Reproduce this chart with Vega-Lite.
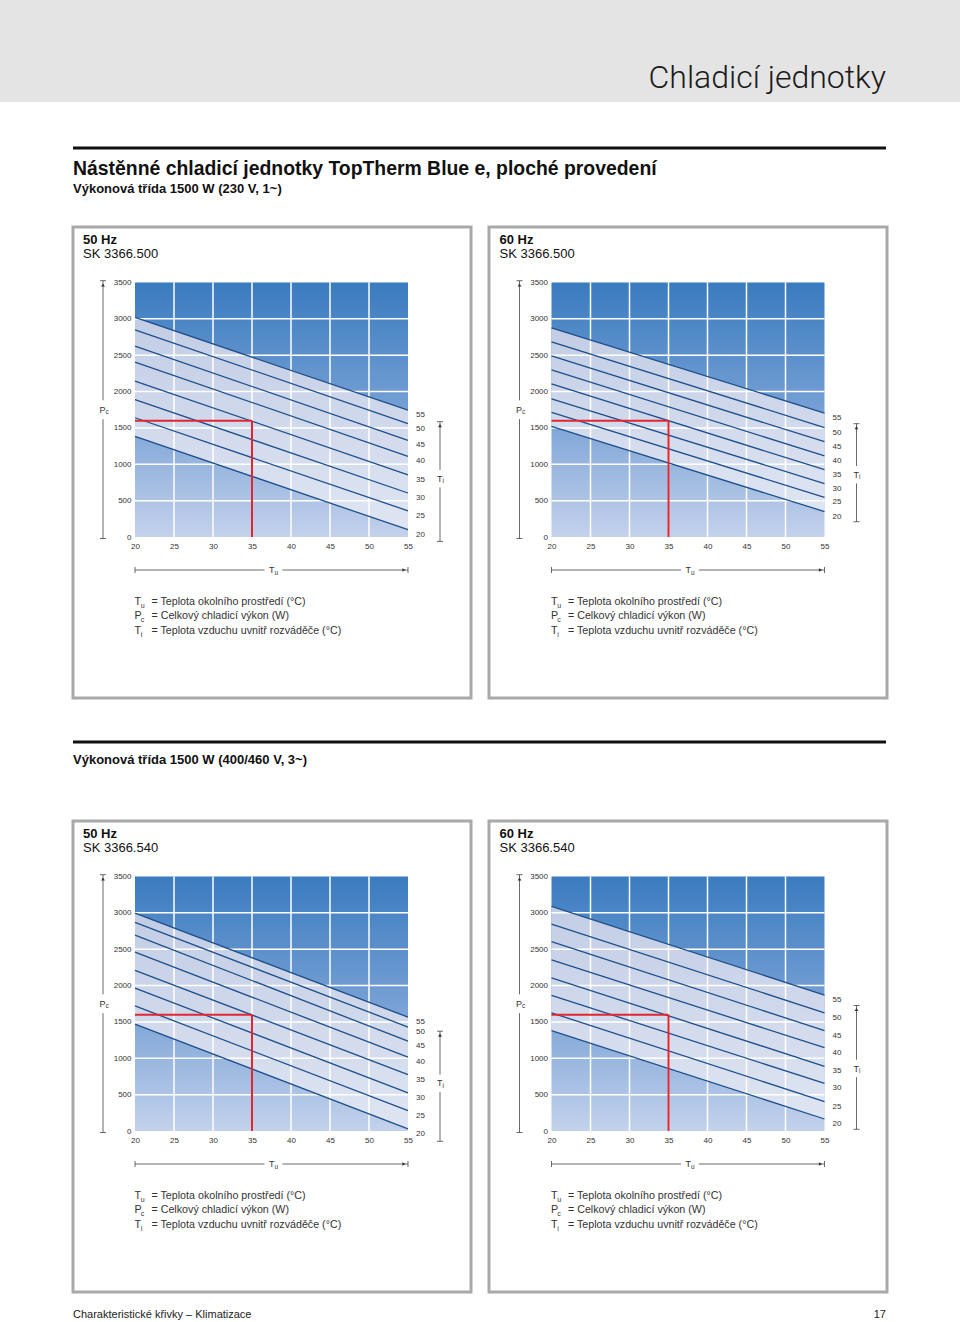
{
"$schema": "https://vega.github.io/schema/vega-lite/v6.json",
"padding": 0,
"background": "white",
"columns": 2,
"spacing": 0,
"bounds": "flush",
"config": {"font": "Liberation Sans", "view": {"stroke": null}},
"datasets": {
"c50_500": [
{"tu":20,"ti":55,"pc":3020},{"tu":55,"ti":55,"pc":1745},
{"tu":20,"ti":50,"pc":2850},{"tu":55,"ti":50,"pc":1560},
{"tu":20,"ti":45,"pc":2625},{"tu":55,"ti":45,"pc":1330},
{"tu":20,"ti":40,"pc":2405},{"tu":55,"ti":40,"pc":1110},
{"tu":20,"ti":35,"pc":2145},{"tu":55,"ti":35,"pc":855},
{"tu":20,"ti":30,"pc":1890},{"tu":55,"ti":30,"pc":605},
{"tu":20,"ti":25,"pc":1640},{"tu":55,"ti":25,"pc":360},
{"tu":20,"ti":20,"pc":1385},{"tu":55,"ti":20,"pc":100}],
"c60_500": [
{"tu":20,"ti":55,"pc":2875},{"tu":55,"ti":55,"pc":1705},
{"tu":20,"ti":50,"pc":2685},{"tu":55,"ti":50,"pc":1505},
{"tu":20,"ti":45,"pc":2490},{"tu":55,"ti":45,"pc":1310},
{"tu":20,"ti":40,"pc":2300},{"tu":55,"ti":40,"pc":1115},
{"tu":20,"ti":35,"pc":2105},{"tu":55,"ti":35,"pc":925},
{"tu":20,"ti":30,"pc":1900},{"tu":55,"ti":30,"pc":735},
{"tu":20,"ti":25,"pc":1715},{"tu":55,"ti":25,"pc":545},
{"tu":20,"ti":20,"pc":1520},{"tu":55,"ti":20,"pc":350}],
"c50_540": [
{"tu":20,"ti":55,"pc":2995},{"tu":55,"ti":55,"pc":1565},
{"tu":20,"ti":50,"pc":2870},{"tu":55,"ti":50,"pc":1430},
{"tu":20,"ti":45,"pc":2695},{"tu":55,"ti":45,"pc":1235},
{"tu":20,"ti":40,"pc":2460},{"tu":55,"ti":40,"pc":1015},
{"tu":20,"ti":35,"pc":2210},{"tu":55,"ti":35,"pc":775},
{"tu":20,"ti":30,"pc":1965},{"tu":55,"ti":30,"pc":525},
{"tu":20,"ti":25,"pc":1720},{"tu":55,"ti":25,"pc":280},
{"tu":20,"ti":20,"pc":1470},{"tu":55,"ti":20,"pc":30}],
"c60_540": [
{"tu":20,"ti":55,"pc":3090},{"tu":55,"ti":55,"pc":1870},
{"tu":20,"ti":50,"pc":2845},{"tu":55,"ti":50,"pc":1625},
{"tu":20,"ti":45,"pc":2605},{"tu":55,"ti":45,"pc":1380},
{"tu":20,"ti":40,"pc":2355},{"tu":55,"ti":40,"pc":1145},
{"tu":20,"ti":35,"pc":2105},{"tu":55,"ti":35,"pc":890},
{"tu":20,"ti":30,"pc":1865},{"tu":55,"ti":30,"pc":655},
{"tu":20,"ti":25,"pc":1625},{"tu":55,"ti":25,"pc":405},
{"tu":20,"ti":20,"pc":1380},{"tu":55,"ti":20,"pc":165}],
"gx": [{"v":25},{"v":30},{"v":35},{"v":40},{"v":45},{"v":50}],
"gy": [{"v":500},{"v":1000},{"v":1500},{"v":2000},{"v":2500},{"v":3000}],
"ex": [{"tu":35,"pc":1600}]
},
"concat": [
{"width":480,"height":102,"view":{"fill":"#e4e4e4"},"data":{"values":[{}]},"mark":{"type":"text","text":""},"encoding":{"x":{"value":10},"y":{"value":50}}},
{"width":480,"height":102,"view":{"fill":"#e4e4e4"},"data":{"values":[{}]},
 "mark":{"type":"text","text":"Chladicí jednotky","align":"right","baseline":"middle","fontSize":32,"font":"Roboto","fontWeight":300,"color":"#1a1a1a"},
 "encoding":{"x":{"value":406},"y":{"value":78}}},
{"width":480,"height":125,"data":{"values":[{}]},"layer":[
 {"mark":{"type":"rule","color":"#111","strokeWidth":3},"encoding":{"x":{"value":73},"x2":{"value":886},"y":{"value":46}}},
 {"mark":{"type":"text","text":"Nástěnné chladicí jednotky TopTherm Blue e, ploché provedení","align":"left","baseline":"middle","fontSize":19.4,"fontWeight":"bold","color":"#111"},"encoding":{"x":{"value":73},"y":{"value":67}}},
 {"mark":{"type":"text","text":"Výkonová třída 1500 W (230 V, 1~)","align":"left","baseline":"middle","fontSize":13,"fontWeight":"bold","color":"#111"},"encoding":{"x":{"value":73},"y":{"value":87}}}
]},
{"width":480,"height":125,"data":{"values":[{}]},"mark":{"type":"text","text":""},"encoding":{"x":{"value":10},"y":{"value":50}}},

{"width":480,"height":471,"data":{"name":"c50_500"},"layer":[
{"data":{"values":[{}]},"mark":{"type":"rect","filled":false,"stroke":"#a9a9a9","strokeWidth":3},"encoding":{"x":{"value":73},"x2":{"value":471},"y":{"value":0},"y2":{"value":471}}},
{"data":{"values":[{}]},"mark":{"type":"rect","fill":{"gradient":"linear","x1":0,"y1":0,"x2":0,"y2":1,"stops":[{"offset":0,"color":"#3a7bbf"},{"offset":0.5,"color":"#76a0d4"},{"offset":1,"color":"#c4d2ec"}]}},"encoding":{"x":{"value":135},"x2":{"value":408},"y":{"value":55.5},"y2":{"value":310}}},
{"transform":[{"aggregate":[{"op":"max","field":"pc","as":"hi"},{"op":"min","field":"pc","as":"lo"}],"groupby":["tu"]}],"mark":{"type":"area","fill":{"gradient":"linear","x1":0,"y1":0,"x2":0,"y2":1,"stops":[{"offset":0,"color":"#c2cde5"},{"offset":1,"color":"#dfe5f2"}]}},"encoding":{"x":{"field":"tu","type":"quantitative"},"y":{"field":"hi","type":"quantitative"},"y2":{"field":"lo"}}},
{"data":{"name":"gx"},"mark":{"type":"rule","color":"white","strokeWidth":1.5},"encoding":{"x":{"field":"v","type":"quantitative"},"y":{"value":55.5},"y2":{"value":310}}},
{"data":{"name":"gy"},"mark":{"type":"rule","color":"white","strokeWidth":1.5},"encoding":{"y":{"field":"v","type":"quantitative"},"x":{"value":135},"x2":{"value":408}}},
{"mark":{"type":"line","color":"#1d4f8b","strokeWidth":1.3},"encoding":{"x":{"field":"tu","type":"quantitative","scale":{"domain":[20,55],"range":[135,408],"nice":false,"zero":false},"axis":{"orient":"bottom","offset":-161,"values":[20,25,30,35,40,45,50,55],"format":"d","title":null,"domain":false,"ticks":false,"grid":false,"labelFontSize":8,"labelColor":"#333","labelPadding":5,"labelFlush":false,"labelOverlap":false,"zindex":2}},"y":{"field":"pc","type":"quantitative","scale":{"domain":[0,3500],"range":[310,55.5],"nice":false,"zero":false},"axis":{"orient":"left","offset":-135,"values":[0,500,1000,1500,2000,2500,3000,3500],"format":"d","title":null,"domain":false,"ticks":false,"grid":false,"labelFontSize":8,"labelColor":"#333","labelPadding":4,"labelFlush":false,"labelOverlap":false,"zindex":2}},"detail":{"field":"ti","type":"nominal"}}},
{"data":{"name":"ex"},"mark":{"type":"rule","color":"#e2262f","strokeWidth":2},"encoding":{"x":{"field":"tu","type":"quantitative"},"x2":{"value":135},"y":{"field":"pc","type":"quantitative"}}},
{"data":{"name":"ex"},"mark":{"type":"rule","color":"#e2262f","strokeWidth":2},"encoding":{"x":{"field":"tu","type":"quantitative"},"y":{"field":"pc","type":"quantitative"},"y2":{"value":310}}},
{"transform":[{"filter":"datum.tu == 55"}],"mark":{"type":"text","align":"left","baseline":"middle","dx":8,"dy":5,"fontSize":8,"color":"#333"},"encoding":{"x":{"field":"tu","type":"quantitative"},"y":{"field":"pc","type":"quantitative"},"text":{"field":"ti","type":"quantitative"}}},
{"data":{"values":[{}]},"mark":{"type":"text","text":"50 Hz","align":"left","baseline":"middle","fontSize":13,"fontWeight":"bold","color":"#111"},"encoding":{"x":{"value":83},"y":{"value":13}}},
{"data":{"values":[{}]},"mark":{"type":"text","text":"SK 3366.500","align":"left","baseline":"middle","fontSize":13,"color":"#111"},"encoding":{"x":{"value":83},"y":{"value":27}}},
{"data":{"values":[{}]},"mark":{"type":"rule","color":"#444","strokeWidth":0.8},"encoding":{"x":{"value":103},"y":{"value":53.7},"y2":{"value":173.3}}},
{"data":{"values":[{}]},"mark":{"type":"rule","color":"#444","strokeWidth":0.8},"encoding":{"x":{"value":103},"y":{"value":192.2},"y2":{"value":311.5}}},
{"data":{"values":[{}]},"mark":{"type":"rule","color":"#444","strokeWidth":0.8},"encoding":{"x":{"value":100},"x2":{"value":106},"y":{"value":53.7}}},
{"data":{"values":[{}]},"mark":{"type":"rule","color":"#444","strokeWidth":0.8},"encoding":{"x":{"value":100},"x2":{"value":106},"y":{"value":311.5}}},
{"data":{"values":[{}]},"mark":{"type":"point","shape":"triangle-up","size":14,"filled":true,"color":"#333","opacity":1},"encoding":{"x":{"value":103},"y":{"value":58}}},
{"data":{"values":[{}]},"mark":{"type":"text","text":"P","align":"left","baseline":"middle","fontSize":9,"color":"#333"},"encoding":{"x":{"value":99.5},"y":{"value":182.7}}},
{"data":{"values":[{}]},"mark":{"type":"text","text":"c","align":"left","baseline":"middle","fontSize":6.5,"dy":2.5,"color":"#333"},"encoding":{"x":{"value":105.5},"y":{"value":182.7}}},
{"data":{"values":[{}]},"mark":{"type":"rule","color":"#444","strokeWidth":0.8},"encoding":{"x":{"value":135},"x2":{"value":264.5},"y":{"value":343}}},
{"data":{"values":[{}]},"mark":{"type":"rule","color":"#444","strokeWidth":0.8},"encoding":{"x":{"value":282.4},"x2":{"value":408},"y":{"value":343}}},
{"data":{"values":[{}]},"mark":{"type":"rule","color":"#444","strokeWidth":0.8},"encoding":{"x":{"value":135},"y":{"value":340},"y2":{"value":346}}},
{"data":{"values":[{}]},"mark":{"type":"rule","color":"#444","strokeWidth":0.8},"encoding":{"x":{"value":408},"y":{"value":340},"y2":{"value":346}}},
{"data":{"values":[{}]},"mark":{"type":"point","shape":"triangle-right","size":14,"filled":true,"color":"#333","opacity":1},"encoding":{"x":{"value":404},"y":{"value":343}}},
{"data":{"values":[{}]},"mark":{"type":"text","text":"T","align":"left","baseline":"middle","fontSize":9,"color":"#333"},"encoding":{"x":{"value":269},"y":{"value":343}}},
{"data":{"values":[{}]},"mark":{"type":"text","text":"u","align":"left","baseline":"middle","fontSize":6.5,"dy":2.5,"color":"#333"},"encoding":{"x":{"value":274.5},"y":{"value":343}}},
{"data":{"values":[{}]},"mark":{"type":"rule","color":"#444","strokeWidth":0.8},"encoding":{"x":{"value":440},"y":{"value":194.7},"y2":{"value":243}}},
{"data":{"values":[{}]},"mark":{"type":"rule","color":"#444","strokeWidth":0.8},"encoding":{"x":{"value":440},"y":{"value":260.4},"y2":{"value":314.4}}},
{"data":{"values":[{}]},"mark":{"type":"rule","color":"#444","strokeWidth":0.8},"encoding":{"x":{"value":437},"x2":{"value":443},"y":{"value":194.7}}},
{"data":{"values":[{}]},"mark":{"type":"rule","color":"#444","strokeWidth":0.8},"encoding":{"x":{"value":437},"x2":{"value":443},"y":{"value":314.4}}},
{"data":{"values":[{}]},"mark":{"type":"point","shape":"triangle-up","size":14,"filled":true,"color":"#333","opacity":1},"encoding":{"x":{"value":440},"y":{"value":198.7}}},
{"data":{"values":[{}]},"mark":{"type":"text","text":"T","align":"left","baseline":"middle","fontSize":9,"color":"#333"},"encoding":{"x":{"value":437},"y":{"value":251.7}}},
{"data":{"values":[{}]},"mark":{"type":"text","text":"i","align":"left","baseline":"middle","fontSize":6.5,"dy":2.5,"color":"#333"},"encoding":{"x":{"value":442.5},"y":{"value":251.7}}},
{"data":{"values":[{}]},"mark":{"type":"text","text":["T","P","T"],"align":"left","baseline":"top","fontSize":10.7,"lineHeight":14.5,"color":"#333"},"encoding":{"x":{"value":134.5},"y":{"value":369.5}}},
{"data":{"values":[{}]},"mark":{"type":"text","text":["u","c","i"],"align":"left","baseline":"top","fontSize":7,"lineHeight":14.5,"color":"#333"},"encoding":{"x":{"value":140.8},"y":{"value":374.5}}},
{"data":{"values":[{}]},"mark":{"type":"text","text":["= Teplota okolního prostředí (°C)","= Celkový chladicí výkon (W)","= Teplota vzduchu uvnitř rozváděče (°C)"],"align":"left","baseline":"top","fontSize":10.7,"lineHeight":14.5,"color":"#333"},"encoding":{"x":{"value":151.5},"y":{"value":369.5}}}
]},

{"width":480,"height":471,"data":{"name":"c60_500"},"layer":[
{"data":{"values":[{}]},"mark":{"type":"rect","filled":false,"stroke":"#a9a9a9","strokeWidth":3},"encoding":{"x":{"value":9},"x2":{"value":407},"y":{"value":0},"y2":{"value":471}}},
{"data":{"values":[{}]},"mark":{"type":"rect","fill":{"gradient":"linear","x1":0,"y1":0,"x2":0,"y2":1,"stops":[{"offset":0,"color":"#3a7bbf"},{"offset":0.5,"color":"#76a0d4"},{"offset":1,"color":"#c4d2ec"}]}},"encoding":{"x":{"value":71.5},"x2":{"value":344.5},"y":{"value":55.5},"y2":{"value":310}}},
{"transform":[{"aggregate":[{"op":"max","field":"pc","as":"hi"},{"op":"min","field":"pc","as":"lo"}],"groupby":["tu"]}],"mark":{"type":"area","fill":{"gradient":"linear","x1":0,"y1":0,"x2":0,"y2":1,"stops":[{"offset":0,"color":"#c2cde5"},{"offset":1,"color":"#dfe5f2"}]}},"encoding":{"x":{"field":"tu","type":"quantitative"},"y":{"field":"hi","type":"quantitative"},"y2":{"field":"lo"}}},
{"data":{"name":"gx"},"mark":{"type":"rule","color":"white","strokeWidth":1.5},"encoding":{"x":{"field":"v","type":"quantitative"},"y":{"value":55.5},"y2":{"value":310}}},
{"data":{"name":"gy"},"mark":{"type":"rule","color":"white","strokeWidth":1.5},"encoding":{"y":{"field":"v","type":"quantitative"},"x":{"value":71.5},"x2":{"value":344.5}}},
{"mark":{"type":"line","color":"#1d4f8b","strokeWidth":1.3},"encoding":{"x":{"field":"tu","type":"quantitative","scale":{"domain":[20,55],"range":[71.5,344.5],"nice":false,"zero":false},"axis":{"orient":"bottom","offset":-161,"values":[20,25,30,35,40,45,50,55],"format":"d","title":null,"domain":false,"ticks":false,"grid":false,"labelFontSize":8,"labelColor":"#333","labelPadding":5,"labelFlush":false,"labelOverlap":false,"zindex":2}},"y":{"field":"pc","type":"quantitative","scale":{"domain":[0,3500],"range":[310,55.5],"nice":false,"zero":false},"axis":{"orient":"left","offset":-71.5,"values":[0,500,1000,1500,2000,2500,3000,3500],"format":"d","title":null,"domain":false,"ticks":false,"grid":false,"labelFontSize":8,"labelColor":"#333","labelPadding":4,"labelFlush":false,"labelOverlap":false,"zindex":2}},"detail":{"field":"ti","type":"nominal"}}},
{"data":{"name":"ex"},"mark":{"type":"rule","color":"#e2262f","strokeWidth":2},"encoding":{"x":{"field":"tu","type":"quantitative"},"x2":{"value":71.5},"y":{"field":"pc","type":"quantitative"}}},
{"data":{"name":"ex"},"mark":{"type":"rule","color":"#e2262f","strokeWidth":2},"encoding":{"x":{"field":"tu","type":"quantitative"},"y":{"field":"pc","type":"quantitative"},"y2":{"value":310}}},
{"transform":[{"filter":"datum.tu == 55"}],"mark":{"type":"text","align":"left","baseline":"middle","dx":8,"dy":5,"fontSize":8,"color":"#333"},"encoding":{"x":{"field":"tu","type":"quantitative"},"y":{"field":"pc","type":"quantitative"},"text":{"field":"ti","type":"quantitative"}}},
{"data":{"values":[{}]},"mark":{"type":"text","text":"60 Hz","align":"left","baseline":"middle","fontSize":13,"fontWeight":"bold","color":"#111"},"encoding":{"x":{"value":19.5},"y":{"value":13}}},
{"data":{"values":[{}]},"mark":{"type":"text","text":"SK 3366.500","align":"left","baseline":"middle","fontSize":13,"color":"#111"},"encoding":{"x":{"value":19.5},"y":{"value":27}}},
{"data":{"values":[{}]},"mark":{"type":"rule","color":"#444","strokeWidth":0.8},"encoding":{"x":{"value":39.5},"y":{"value":53.7},"y2":{"value":173.3}}},
{"data":{"values":[{}]},"mark":{"type":"rule","color":"#444","strokeWidth":0.8},"encoding":{"x":{"value":39.5},"y":{"value":192.2},"y2":{"value":311.5}}},
{"data":{"values":[{}]},"mark":{"type":"rule","color":"#444","strokeWidth":0.8},"encoding":{"x":{"value":36.5},"x2":{"value":42.5},"y":{"value":53.7}}},
{"data":{"values":[{}]},"mark":{"type":"rule","color":"#444","strokeWidth":0.8},"encoding":{"x":{"value":36.5},"x2":{"value":42.5},"y":{"value":311.5}}},
{"data":{"values":[{}]},"mark":{"type":"point","shape":"triangle-up","size":14,"filled":true,"color":"#333","opacity":1},"encoding":{"x":{"value":39.5},"y":{"value":58}}},
{"data":{"values":[{}]},"mark":{"type":"text","text":"P","align":"left","baseline":"middle","fontSize":9,"color":"#333"},"encoding":{"x":{"value":36},"y":{"value":182.7}}},
{"data":{"values":[{}]},"mark":{"type":"text","text":"c","align":"left","baseline":"middle","fontSize":6.5,"dy":2.5,"color":"#333"},"encoding":{"x":{"value":42},"y":{"value":182.7}}},
{"data":{"values":[{}]},"mark":{"type":"rule","color":"#444","strokeWidth":0.8},"encoding":{"x":{"value":71.5},"x2":{"value":201},"y":{"value":343}}},
{"data":{"values":[{}]},"mark":{"type":"rule","color":"#444","strokeWidth":0.8},"encoding":{"x":{"value":218.9},"x2":{"value":344.5},"y":{"value":343}}},
{"data":{"values":[{}]},"mark":{"type":"rule","color":"#444","strokeWidth":0.8},"encoding":{"x":{"value":71.5},"y":{"value":340},"y2":{"value":346}}},
{"data":{"values":[{}]},"mark":{"type":"rule","color":"#444","strokeWidth":0.8},"encoding":{"x":{"value":344.5},"y":{"value":340},"y2":{"value":346}}},
{"data":{"values":[{}]},"mark":{"type":"point","shape":"triangle-right","size":14,"filled":true,"color":"#333","opacity":1},"encoding":{"x":{"value":340.5},"y":{"value":343}}},
{"data":{"values":[{}]},"mark":{"type":"text","text":"T","align":"left","baseline":"middle","fontSize":9,"color":"#333"},"encoding":{"x":{"value":205.5},"y":{"value":343}}},
{"data":{"values":[{}]},"mark":{"type":"text","text":"u","align":"left","baseline":"middle","fontSize":6.5,"dy":2.5,"color":"#333"},"encoding":{"x":{"value":211},"y":{"value":343}}},
{"data":{"values":[{}]},"mark":{"type":"rule","color":"#444","strokeWidth":0.8},"encoding":{"x":{"value":376.5},"y":{"value":196.7},"y2":{"value":239}}},
{"data":{"values":[{}]},"mark":{"type":"rule","color":"#444","strokeWidth":0.8},"encoding":{"x":{"value":376.5},"y":{"value":256.4},"y2":{"value":294.7}}},
{"data":{"values":[{}]},"mark":{"type":"rule","color":"#444","strokeWidth":0.8},"encoding":{"x":{"value":373.5},"x2":{"value":379.5},"y":{"value":196.7}}},
{"data":{"values":[{}]},"mark":{"type":"rule","color":"#444","strokeWidth":0.8},"encoding":{"x":{"value":373.5},"x2":{"value":379.5},"y":{"value":294.7}}},
{"data":{"values":[{}]},"mark":{"type":"point","shape":"triangle-up","size":14,"filled":true,"color":"#333","opacity":1},"encoding":{"x":{"value":376.5},"y":{"value":200.7}}},
{"data":{"values":[{}]},"mark":{"type":"text","text":"T","align":"left","baseline":"middle","fontSize":9,"color":"#333"},"encoding":{"x":{"value":373.5},"y":{"value":247.7}}},
{"data":{"values":[{}]},"mark":{"type":"text","text":"i","align":"left","baseline":"middle","fontSize":6.5,"dy":2.5,"color":"#333"},"encoding":{"x":{"value":379},"y":{"value":247.7}}},
{"data":{"values":[{}]},"mark":{"type":"text","text":["T","P","T"],"align":"left","baseline":"top","fontSize":10.7,"lineHeight":14.5,"color":"#333"},"encoding":{"x":{"value":71},"y":{"value":369.5}}},
{"data":{"values":[{}]},"mark":{"type":"text","text":["u","c","i"],"align":"left","baseline":"top","fontSize":7,"lineHeight":14.5,"color":"#333"},"encoding":{"x":{"value":77.3},"y":{"value":374.5}}},
{"data":{"values":[{}]},"mark":{"type":"text","text":["= Teplota okolního prostředí (°C)","= Celkový chladicí výkon (W)","= Teplota vzduchu uvnitř rozváděče (°C)"],"align":"left","baseline":"top","fontSize":10.7,"lineHeight":14.5,"color":"#333"},"encoding":{"x":{"value":88},"y":{"value":369.5}}}
]},

{"width":480,"height":123,"data":{"values":[{}]},"layer":[
 {"mark":{"type":"rule","color":"#111","strokeWidth":3},"encoding":{"x":{"value":73},"x2":{"value":886},"y":{"value":44}}},
 {"mark":{"type":"text","text":"Výkonová třída 1500 W (400/460 V, 3~)","align":"left","baseline":"middle","fontSize":13,"fontWeight":"bold","color":"#111"},"encoding":{"x":{"value":73},"y":{"value":62}}}
]},
{"width":480,"height":123,"data":{"values":[{}]},"mark":{"type":"text","text":""},"encoding":{"x":{"value":10},"y":{"value":50}}},

{"width":480,"height":471,"data":{"name":"c50_540"},"layer":[
{"data":{"values":[{}]},"mark":{"type":"rect","filled":false,"stroke":"#a9a9a9","strokeWidth":3},"encoding":{"x":{"value":73},"x2":{"value":471},"y":{"value":0},"y2":{"value":471}}},
{"data":{"values":[{}]},"mark":{"type":"rect","fill":{"gradient":"linear","x1":0,"y1":0,"x2":0,"y2":1,"stops":[{"offset":0,"color":"#3a7bbf"},{"offset":0.5,"color":"#76a0d4"},{"offset":1,"color":"#c4d2ec"}]}},"encoding":{"x":{"value":135},"x2":{"value":408},"y":{"value":55.5},"y2":{"value":310}}},
{"transform":[{"aggregate":[{"op":"max","field":"pc","as":"hi"},{"op":"min","field":"pc","as":"lo"}],"groupby":["tu"]}],"mark":{"type":"area","fill":{"gradient":"linear","x1":0,"y1":0,"x2":0,"y2":1,"stops":[{"offset":0,"color":"#c2cde5"},{"offset":1,"color":"#dfe5f2"}]}},"encoding":{"x":{"field":"tu","type":"quantitative"},"y":{"field":"hi","type":"quantitative"},"y2":{"field":"lo"}}},
{"data":{"name":"gx"},"mark":{"type":"rule","color":"white","strokeWidth":1.5},"encoding":{"x":{"field":"v","type":"quantitative"},"y":{"value":55.5},"y2":{"value":310}}},
{"data":{"name":"gy"},"mark":{"type":"rule","color":"white","strokeWidth":1.5},"encoding":{"y":{"field":"v","type":"quantitative"},"x":{"value":135},"x2":{"value":408}}},
{"mark":{"type":"line","color":"#1d4f8b","strokeWidth":1.3},"encoding":{"x":{"field":"tu","type":"quantitative","scale":{"domain":[20,55],"range":[135,408],"nice":false,"zero":false},"axis":{"orient":"bottom","offset":-161,"values":[20,25,30,35,40,45,50,55],"format":"d","title":null,"domain":false,"ticks":false,"grid":false,"labelFontSize":8,"labelColor":"#333","labelPadding":5,"labelFlush":false,"labelOverlap":false,"zindex":2}},"y":{"field":"pc","type":"quantitative","scale":{"domain":[0,3500],"range":[310,55.5],"nice":false,"zero":false},"axis":{"orient":"left","offset":-135,"values":[0,500,1000,1500,2000,2500,3000,3500],"format":"d","title":null,"domain":false,"ticks":false,"grid":false,"labelFontSize":8,"labelColor":"#333","labelPadding":4,"labelFlush":false,"labelOverlap":false,"zindex":2}},"detail":{"field":"ti","type":"nominal"}}},
{"data":{"name":"ex"},"mark":{"type":"rule","color":"#e2262f","strokeWidth":2},"encoding":{"x":{"field":"tu","type":"quantitative"},"x2":{"value":135},"y":{"field":"pc","type":"quantitative"}}},
{"data":{"name":"ex"},"mark":{"type":"rule","color":"#e2262f","strokeWidth":2},"encoding":{"x":{"field":"tu","type":"quantitative"},"y":{"field":"pc","type":"quantitative"},"y2":{"value":310}}},
{"transform":[{"filter":"datum.tu == 55"}],"mark":{"type":"text","align":"left","baseline":"middle","dx":8,"dy":5,"fontSize":8,"color":"#333"},"encoding":{"x":{"field":"tu","type":"quantitative"},"y":{"field":"pc","type":"quantitative"},"text":{"field":"ti","type":"quantitative"}}},
{"data":{"values":[{}]},"mark":{"type":"text","text":"50 Hz","align":"left","baseline":"middle","fontSize":13,"fontWeight":"bold","color":"#111"},"encoding":{"x":{"value":83},"y":{"value":13}}},
{"data":{"values":[{}]},"mark":{"type":"text","text":"SK 3366.540","align":"left","baseline":"middle","fontSize":13,"color":"#111"},"encoding":{"x":{"value":83},"y":{"value":27}}},
{"data":{"values":[{}]},"mark":{"type":"rule","color":"#444","strokeWidth":0.8},"encoding":{"x":{"value":103},"y":{"value":53.7},"y2":{"value":173.3}}},
{"data":{"values":[{}]},"mark":{"type":"rule","color":"#444","strokeWidth":0.8},"encoding":{"x":{"value":103},"y":{"value":192.2},"y2":{"value":311.5}}},
{"data":{"values":[{}]},"mark":{"type":"rule","color":"#444","strokeWidth":0.8},"encoding":{"x":{"value":100},"x2":{"value":106},"y":{"value":53.7}}},
{"data":{"values":[{}]},"mark":{"type":"rule","color":"#444","strokeWidth":0.8},"encoding":{"x":{"value":100},"x2":{"value":106},"y":{"value":311.5}}},
{"data":{"values":[{}]},"mark":{"type":"point","shape":"triangle-up","size":14,"filled":true,"color":"#333","opacity":1},"encoding":{"x":{"value":103},"y":{"value":58}}},
{"data":{"values":[{}]},"mark":{"type":"text","text":"P","align":"left","baseline":"middle","fontSize":9,"color":"#333"},"encoding":{"x":{"value":99.5},"y":{"value":182.7}}},
{"data":{"values":[{}]},"mark":{"type":"text","text":"c","align":"left","baseline":"middle","fontSize":6.5,"dy":2.5,"color":"#333"},"encoding":{"x":{"value":105.5},"y":{"value":182.7}}},
{"data":{"values":[{}]},"mark":{"type":"rule","color":"#444","strokeWidth":0.8},"encoding":{"x":{"value":135},"x2":{"value":264.5},"y":{"value":343}}},
{"data":{"values":[{}]},"mark":{"type":"rule","color":"#444","strokeWidth":0.8},"encoding":{"x":{"value":282.4},"x2":{"value":408},"y":{"value":343}}},
{"data":{"values":[{}]},"mark":{"type":"rule","color":"#444","strokeWidth":0.8},"encoding":{"x":{"value":135},"y":{"value":340},"y2":{"value":346}}},
{"data":{"values":[{}]},"mark":{"type":"rule","color":"#444","strokeWidth":0.8},"encoding":{"x":{"value":408},"y":{"value":340},"y2":{"value":346}}},
{"data":{"values":[{}]},"mark":{"type":"point","shape":"triangle-right","size":14,"filled":true,"color":"#333","opacity":1},"encoding":{"x":{"value":404},"y":{"value":343}}},
{"data":{"values":[{}]},"mark":{"type":"text","text":"T","align":"left","baseline":"middle","fontSize":9,"color":"#333"},"encoding":{"x":{"value":269},"y":{"value":343}}},
{"data":{"values":[{}]},"mark":{"type":"text","text":"u","align":"left","baseline":"middle","fontSize":6.5,"dy":2.5,"color":"#333"},"encoding":{"x":{"value":274.5},"y":{"value":343}}},
{"data":{"values":[{}]},"mark":{"type":"rule","color":"#444","strokeWidth":0.8},"encoding":{"x":{"value":440},"y":{"value":210.2},"y2":{"value":253.6}}},
{"data":{"values":[{}]},"mark":{"type":"rule","color":"#444","strokeWidth":0.8},"encoding":{"x":{"value":440},"y":{"value":271.1},"y2":{"value":320.3}}},
{"data":{"values":[{}]},"mark":{"type":"rule","color":"#444","strokeWidth":0.8},"encoding":{"x":{"value":437},"x2":{"value":443},"y":{"value":210.2}}},
{"data":{"values":[{}]},"mark":{"type":"rule","color":"#444","strokeWidth":0.8},"encoding":{"x":{"value":437},"x2":{"value":443},"y":{"value":320.3}}},
{"data":{"values":[{}]},"mark":{"type":"point","shape":"triangle-up","size":14,"filled":true,"color":"#333","opacity":1},"encoding":{"x":{"value":440},"y":{"value":214.2}}},
{"data":{"values":[{}]},"mark":{"type":"text","text":"T","align":"left","baseline":"middle","fontSize":9,"color":"#333"},"encoding":{"x":{"value":437},"y":{"value":262.4}}},
{"data":{"values":[{}]},"mark":{"type":"text","text":"i","align":"left","baseline":"middle","fontSize":6.5,"dy":2.5,"color":"#333"},"encoding":{"x":{"value":442.5},"y":{"value":262.4}}},
{"data":{"values":[{}]},"mark":{"type":"text","text":["T","P","T"],"align":"left","baseline":"top","fontSize":10.7,"lineHeight":14.5,"color":"#333"},"encoding":{"x":{"value":134.5},"y":{"value":369.5}}},
{"data":{"values":[{}]},"mark":{"type":"text","text":["u","c","i"],"align":"left","baseline":"top","fontSize":7,"lineHeight":14.5,"color":"#333"},"encoding":{"x":{"value":140.8},"y":{"value":374.5}}},
{"data":{"values":[{}]},"mark":{"type":"text","text":["= Teplota okolního prostředí (°C)","= Celkový chladicí výkon (W)","= Teplota vzduchu uvnitř rozváděče (°C)"],"align":"left","baseline":"top","fontSize":10.7,"lineHeight":14.5,"color":"#333"},"encoding":{"x":{"value":151.5},"y":{"value":369.5}}}
]},

{"width":480,"height":471,"data":{"name":"c60_540"},"layer":[
{"data":{"values":[{}]},"mark":{"type":"rect","filled":false,"stroke":"#a9a9a9","strokeWidth":3},"encoding":{"x":{"value":9},"x2":{"value":407},"y":{"value":0},"y2":{"value":471}}},
{"data":{"values":[{}]},"mark":{"type":"rect","fill":{"gradient":"linear","x1":0,"y1":0,"x2":0,"y2":1,"stops":[{"offset":0,"color":"#3a7bbf"},{"offset":0.5,"color":"#76a0d4"},{"offset":1,"color":"#c4d2ec"}]}},"encoding":{"x":{"value":71.5},"x2":{"value":344.5},"y":{"value":55.5},"y2":{"value":310}}},
{"transform":[{"aggregate":[{"op":"max","field":"pc","as":"hi"},{"op":"min","field":"pc","as":"lo"}],"groupby":["tu"]}],"mark":{"type":"area","fill":{"gradient":"linear","x1":0,"y1":0,"x2":0,"y2":1,"stops":[{"offset":0,"color":"#c2cde5"},{"offset":1,"color":"#dfe5f2"}]}},"encoding":{"x":{"field":"tu","type":"quantitative"},"y":{"field":"hi","type":"quantitative"},"y2":{"field":"lo"}}},
{"data":{"name":"gx"},"mark":{"type":"rule","color":"white","strokeWidth":1.5},"encoding":{"x":{"field":"v","type":"quantitative"},"y":{"value":55.5},"y2":{"value":310}}},
{"data":{"name":"gy"},"mark":{"type":"rule","color":"white","strokeWidth":1.5},"encoding":{"y":{"field":"v","type":"quantitative"},"x":{"value":71.5},"x2":{"value":344.5}}},
{"mark":{"type":"line","color":"#1d4f8b","strokeWidth":1.3},"encoding":{"x":{"field":"tu","type":"quantitative","scale":{"domain":[20,55],"range":[71.5,344.5],"nice":false,"zero":false},"axis":{"orient":"bottom","offset":-161,"values":[20,25,30,35,40,45,50,55],"format":"d","title":null,"domain":false,"ticks":false,"grid":false,"labelFontSize":8,"labelColor":"#333","labelPadding":5,"labelFlush":false,"labelOverlap":false,"zindex":2}},"y":{"field":"pc","type":"quantitative","scale":{"domain":[0,3500],"range":[310,55.5],"nice":false,"zero":false},"axis":{"orient":"left","offset":-71.5,"values":[0,500,1000,1500,2000,2500,3000,3500],"format":"d","title":null,"domain":false,"ticks":false,"grid":false,"labelFontSize":8,"labelColor":"#333","labelPadding":4,"labelFlush":false,"labelOverlap":false,"zindex":2}},"detail":{"field":"ti","type":"nominal"}}},
{"data":{"name":"ex"},"mark":{"type":"rule","color":"#e2262f","strokeWidth":2},"encoding":{"x":{"field":"tu","type":"quantitative"},"x2":{"value":71.5},"y":{"field":"pc","type":"quantitative"}}},
{"data":{"name":"ex"},"mark":{"type":"rule","color":"#e2262f","strokeWidth":2},"encoding":{"x":{"field":"tu","type":"quantitative"},"y":{"field":"pc","type":"quantitative"},"y2":{"value":310}}},
{"transform":[{"filter":"datum.tu == 55"}],"mark":{"type":"text","align":"left","baseline":"middle","dx":8,"dy":5,"fontSize":8,"color":"#333"},"encoding":{"x":{"field":"tu","type":"quantitative"},"y":{"field":"pc","type":"quantitative"},"text":{"field":"ti","type":"quantitative"}}},
{"data":{"values":[{}]},"mark":{"type":"text","text":"60 Hz","align":"left","baseline":"middle","fontSize":13,"fontWeight":"bold","color":"#111"},"encoding":{"x":{"value":19.5},"y":{"value":13}}},
{"data":{"values":[{}]},"mark":{"type":"text","text":"SK 3366.540","align":"left","baseline":"middle","fontSize":13,"color":"#111"},"encoding":{"x":{"value":19.5},"y":{"value":27}}},
{"data":{"values":[{}]},"mark":{"type":"rule","color":"#444","strokeWidth":0.8},"encoding":{"x":{"value":39.5},"y":{"value":53.7},"y2":{"value":173.3}}},
{"data":{"values":[{}]},"mark":{"type":"rule","color":"#444","strokeWidth":0.8},"encoding":{"x":{"value":39.5},"y":{"value":192.2},"y2":{"value":311.5}}},
{"data":{"values":[{}]},"mark":{"type":"rule","color":"#444","strokeWidth":0.8},"encoding":{"x":{"value":36.5},"x2":{"value":42.5},"y":{"value":53.7}}},
{"data":{"values":[{}]},"mark":{"type":"rule","color":"#444","strokeWidth":0.8},"encoding":{"x":{"value":36.5},"x2":{"value":42.5},"y":{"value":311.5}}},
{"data":{"values":[{}]},"mark":{"type":"point","shape":"triangle-up","size":14,"filled":true,"color":"#333","opacity":1},"encoding":{"x":{"value":39.5},"y":{"value":58}}},
{"data":{"values":[{}]},"mark":{"type":"text","text":"P","align":"left","baseline":"middle","fontSize":9,"color":"#333"},"encoding":{"x":{"value":36},"y":{"value":182.7}}},
{"data":{"values":[{}]},"mark":{"type":"text","text":"c","align":"left","baseline":"middle","fontSize":6.5,"dy":2.5,"color":"#333"},"encoding":{"x":{"value":42},"y":{"value":182.7}}},
{"data":{"values":[{}]},"mark":{"type":"rule","color":"#444","strokeWidth":0.8},"encoding":{"x":{"value":71.5},"x2":{"value":201},"y":{"value":343}}},
{"data":{"values":[{}]},"mark":{"type":"rule","color":"#444","strokeWidth":0.8},"encoding":{"x":{"value":218.9},"x2":{"value":344.5},"y":{"value":343}}},
{"data":{"values":[{}]},"mark":{"type":"rule","color":"#444","strokeWidth":0.8},"encoding":{"x":{"value":71.5},"y":{"value":340},"y2":{"value":346}}},
{"data":{"values":[{}]},"mark":{"type":"rule","color":"#444","strokeWidth":0.8},"encoding":{"x":{"value":344.5},"y":{"value":340},"y2":{"value":346}}},
{"data":{"values":[{}]},"mark":{"type":"point","shape":"triangle-right","size":14,"filled":true,"color":"#333","opacity":1},"encoding":{"x":{"value":340.5},"y":{"value":343}}},
{"data":{"values":[{}]},"mark":{"type":"text","text":"T","align":"left","baseline":"middle","fontSize":9,"color":"#333"},"encoding":{"x":{"value":205.5},"y":{"value":343}}},
{"data":{"values":[{}]},"mark":{"type":"text","text":"u","align":"left","baseline":"middle","fontSize":6.5,"dy":2.5,"color":"#333"},"encoding":{"x":{"value":211},"y":{"value":343}}},
{"data":{"values":[{}]},"mark":{"type":"rule","color":"#444","strokeWidth":0.8},"encoding":{"x":{"value":376.5},"y":{"value":184.5},"y2":{"value":238.7}}},
{"data":{"values":[{}]},"mark":{"type":"rule","color":"#444","strokeWidth":0.8},"encoding":{"x":{"value":376.5},"y":{"value":256.2},"y2":{"value":308.3}}},
{"data":{"values":[{}]},"mark":{"type":"rule","color":"#444","strokeWidth":0.8},"encoding":{"x":{"value":373.5},"x2":{"value":379.5},"y":{"value":184.5}}},
{"data":{"values":[{}]},"mark":{"type":"rule","color":"#444","strokeWidth":0.8},"encoding":{"x":{"value":373.5},"x2":{"value":379.5},"y":{"value":308.3}}},
{"data":{"values":[{}]},"mark":{"type":"point","shape":"triangle-up","size":14,"filled":true,"color":"#333","opacity":1},"encoding":{"x":{"value":376.5},"y":{"value":188.5}}},
{"data":{"values":[{}]},"mark":{"type":"text","text":"T","align":"left","baseline":"middle","fontSize":9,"color":"#333"},"encoding":{"x":{"value":373.5},"y":{"value":247.5}}},
{"data":{"values":[{}]},"mark":{"type":"text","text":"i","align":"left","baseline":"middle","fontSize":6.5,"dy":2.5,"color":"#333"},"encoding":{"x":{"value":379},"y":{"value":247.5}}},
{"data":{"values":[{}]},"mark":{"type":"text","text":["T","P","T"],"align":"left","baseline":"top","fontSize":10.7,"lineHeight":14.5,"color":"#333"},"encoding":{"x":{"value":71},"y":{"value":369.5}}},
{"data":{"values":[{}]},"mark":{"type":"text","text":["u","c","i"],"align":"left","baseline":"top","fontSize":7,"lineHeight":14.5,"color":"#333"},"encoding":{"x":{"value":77.3},"y":{"value":374.5}}},
{"data":{"values":[{}]},"mark":{"type":"text","text":["= Teplota okolního prostředí (°C)","= Celkový chladicí výkon (W)","= Teplota vzduchu uvnitř rozváděče (°C)"],"align":"left","baseline":"top","fontSize":10.7,"lineHeight":14.5,"color":"#333"},"encoding":{"x":{"value":88},"y":{"value":369.5}}}
]},

{"width":480,"height":30,"data":{"values":[{}]},"mark":{"type":"text","text":"Charakteristické křivky – Klimatizace","align":"left","baseline":"middle","fontSize":11,"color":"#222"},"encoding":{"x":{"value":73},"y":{"value":23}}},
{"width":480,"height":30,"data":{"values":[{}]},"mark":{"type":"text","text":"17","align":"right","baseline":"middle","fontSize":11,"color":"#222"},"encoding":{"x":{"value":406},"y":{"value":23}}}
]
}
